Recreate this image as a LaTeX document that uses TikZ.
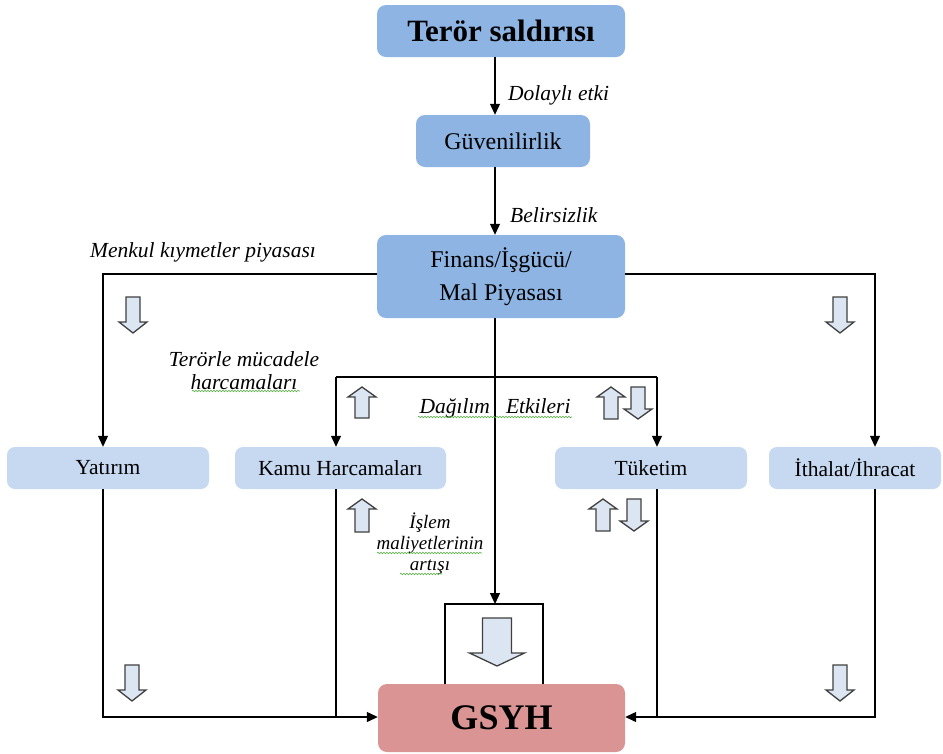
\documentclass[tikz,border=0pt]{standalone}
\usepackage{fontspec}
\setmainfont{Liberation Serif}
\usetikzlibrary{arrows.meta,decorations.pathmorphing}
\definecolor{topblue}{RGB}{141,180,226}
\definecolor{lowblue}{RGB}{198,217,241}
\definecolor{gsyhred}{RGB}{217,148,147}
\definecolor{blkfill}{RGB}{220,230,242}
\definecolor{blkline}{RGB}{64,64,64}
\definecolor{spell}{RGB}{90,175,70}
\begin{document}
\begin{tikzpicture}[x=1pt,y=-1pt,
 topbox/.style={rectangle,rounded corners=9pt,fill=topblue,align=center,inner sep=0pt},
 lowbox/.style={rectangle,rounded corners=8pt,fill=lowblue,inner sep=0pt,minimum height=42pt,font=\fontsize{21.5}{24}\selectfont},
 conn/.style={line width=1.2pt,black},
 arr/.style={conn,-{Triangle[length=11pt,width=10pt]}},
 lbl/.style={font=\fontsize{21.5}{23}\selectfont\itshape,inner sep=0pt,align=center},
 blockarrow/.style={draw=blkline,fill=blkfill,line width=1.3pt,line join=miter},
 spellline/.style={spell,line width=0.6pt,decorate,decoration={snake,amplitude=0.8pt,segment length=3pt}},
 pics/dnblk/.style args={#1/#2/#3/#4}{code={\draw[blockarrow] (-#2,0) -- (#2,0) -- (#2,#1-#4) -- (#3,#1-#4) -- (0,#1) -- (-#3,#1-#4) -- (-#2,#1-#4) -- cycle;}},
 pics/upblk/.style args={#1/#2/#3/#4}{code={\draw[blockarrow] (-#2,#1) -- (#2,#1) -- (#2,#4) -- (#3,#4) -- (0,0) -- (-#3,#4) -- (-#2,#4) -- cycle;}},
]
\useasboundingbox (0,0) rectangle (943,753);
\fill[white] (0,0) rectangle (943,753);

% line coordinates
\coordinate (xa) at (103,0);
\coordinate (xb) at (336,0);
\coordinate (xc) at (495,0);
\coordinate (xd) at (657,0);
\coordinate (xe) at (875,0);
\coordinate (yl) at (0,274);
\coordinate (yi) at (0,377);
\coordinate (yb) at (0,717);
\coordinate (yr) at (0,604);
\coordinate (rl) at (445,0);
\coordinate (rr) at (543,0);

% nodes
\node[topbox,minimum width=248pt,minimum height=52pt,font=\fontsize{31}{34}\selectfont\bfseries] (t1) at (501,31) {Terör saldırısı};
\node[topbox,minimum width=174pt,minimum height=52pt,font=\fontsize{24}{28}\selectfont] (t2) at (503,141) {Güvenilirlik};
\node[topbox,minimum width=248pt,minimum height=83pt,font=\fontsize{24}{33}\selectfont] (t3) at (501,276.5) {Finans/İşgücü/\\Mal Piyasası};

\node[lowbox,minimum width=202pt] (y1) at (108,468) {Yatırım};
\node[lowbox,minimum width=211pt] (k) at (340.5,468) {Kamu Harcamaları};
\node[lowbox,minimum width=192pt] (tk) at (651,468) {Tüketim};
\node[lowbox,minimum width=172pt] (ih) at (855,468) {İthalat/İhracat};

\node[rectangle,rounded corners=9pt,fill=gsyhred,minimum width=247pt,minimum height=68pt,inner sep=0pt,font=\fontsize{36}{40}\selectfont\bfseries] (g) at (501.5,718) {GSYH};

% connectors
\draw[arr] (t1.south -| xc) -- (t2.north -| xc);
\draw[arr] (t2.south -| xc) -- (t3.north -| xc);
\draw[arr] (t3.west |- yl) -- (xa |- yl) -- (y1.north -| xa);
\draw[arr] (t3.east |- yl) -- (xe |- yl) -- (ih.north -| xe);
\draw[arr] (t3.south -| xc) -- (xc |- yr);
\draw[arr] (xb |- yi) -- (k.north -| xb);
\draw[arr] (xd |- yi) -- (tk.north -| xd);
\draw[conn] (xb |- yi) -- (xd |- yi);
\draw[arr] (y1.south -| xa) -- (xa |- yb) -- (g.west |- yb);
\draw[conn] (k.south -| xb) -- (xb |- yb);
\draw[arr] (ih.south -| xe) -- (xe |- yb) -- (g.east |- yb);
\draw[conn] (tk.south -| xd) -- (xd |- yb);
\draw[conn] (g.north -| rl) -- (rl |- yr) -- (rr |- yr) -- (g.north -| rr);

% labels
\node[lbl,anchor=west] (l1) at (508,95) {Dolaylı etki};
\node[lbl,anchor=west] (l2) at (510,215) {Belirsizlik};
\node[lbl] (l3) at (203,252) {Menkul kıymetler piyasası};
\node[lbl] (l4) at (244,371) {Terörle mücadele\\harcamaları};
\node[lbl] (l5) at (495,408) {Dağılım\hspace{16pt}Etkileri};
\node[lbl,font=\fontsize{19}{21}\selectfont\itshape] (l6) at (430,544) {İşlem\\maliyetlerinin\\artışı};

% spell-check underlines
\draw[spellline] (192,391) -- (300,391);
\draw[spellline] (418,417) -- (572,417);
\draw[spellline] (377,553) -- (482,553);
\draw[spellline] (400,574) -- (442,574);

% block arrows
\pic at (133,297) {dnblk=36/7/14/11};
\pic at (840,297) {dnblk=36/7/14/11};
\pic at (132,665) {dnblk=36/7/14/11};
\pic at (840,665) {dnblk=36/7/14/11};
\pic at (362,387) {upblk=31/7/14/10};
\pic at (611,387) {upblk=32/7/14/10};
\pic at (638,387) {dnblk=32/7/14/10};
\pic at (362,499) {upblk=33/7/14/10};
\pic at (603,499) {upblk=32/7/14/10};
\pic at (634,499) {dnblk=32/7/14/10};
\pic at (497,618) {dnblk=48/14.5/27.5/13};
\end{tikzpicture}
\end{document}
